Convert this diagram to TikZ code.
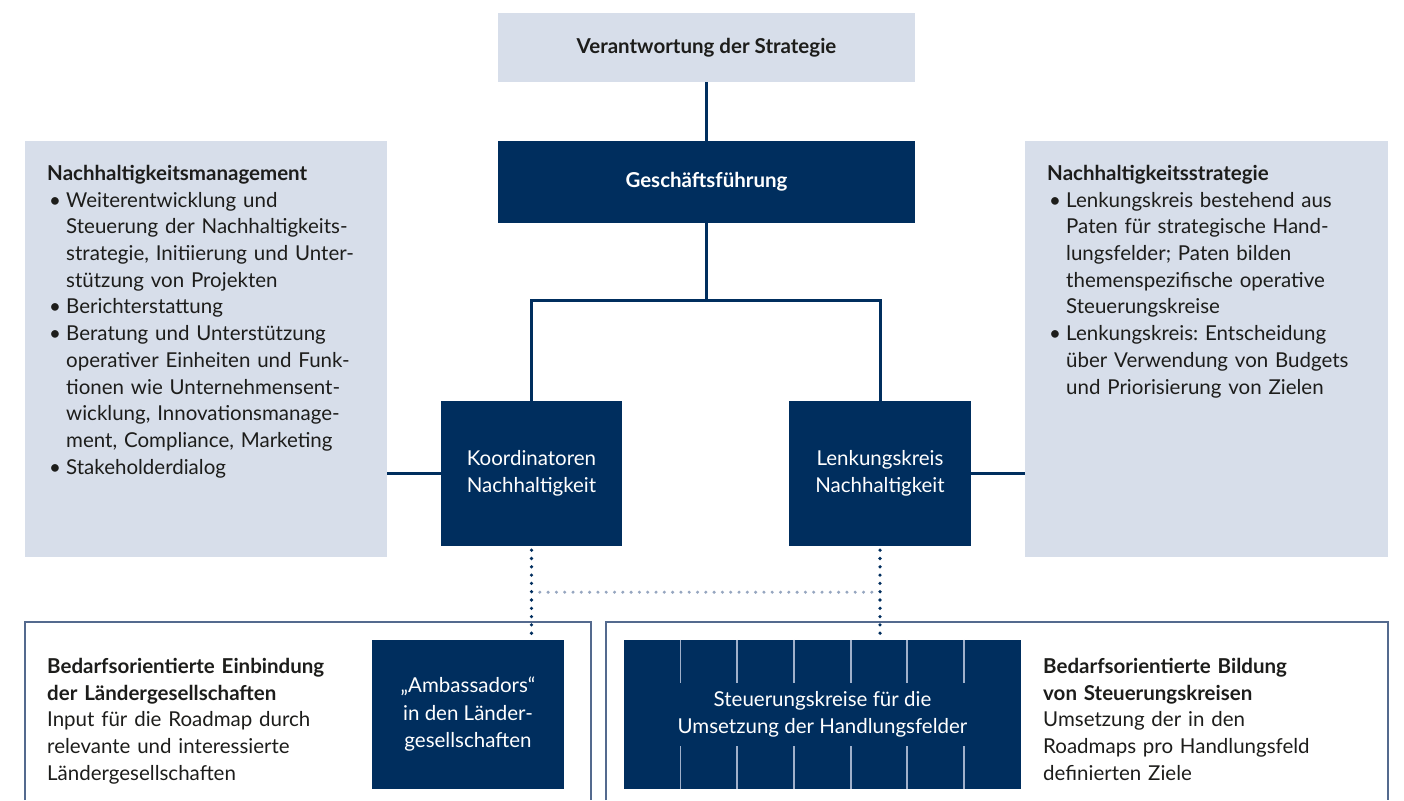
\documentclass[tikz,border=0pt]{standalone}
\usepackage{fontspec}
\setmainfont{Lato}
\usetikzlibrary{calc}
\frenchspacing
\definecolor{navy}{RGB}{0,46,94}
\definecolor{paleblue}{RGB}{215,222,234}
\definecolor{framecol}{RGB}{84,106,142}
\definecolor{dotlight}{RGB}{150,166,192}
\definecolor{tickcol}{RGB}{160,176,202}
\definecolor{ink}{RGB}{29,29,27}
\newcommand{\bul}[1]{\par{\leftskip=19pt\noindent\hspace{-19pt}\makebox[19pt][l]{\hspace{2pt}\textbullet}#1\par}}
\begin{document}
\begin{tikzpicture}[x=1pt,y=-1pt,
  lightbox/.style={fill=paleblue, draw=none, inner sep=0, rectangle},
  darkbox/.style={fill=navy, draw=none, inner sep=0, rectangle, text=white, align=center,
    font=\fontsize{20.5}{27.5}\selectfont},
  paneltext/.style={anchor=north west, inner sep=0, align=left, text width=345pt,
    font=\fontsize{20.5}{26.7}\selectfont, text=ink},
  conn/.style={draw=navy, line width=3pt},
  dotconn/.style={draw=navy, line width=3.6pt, dash pattern=on 0pt off 8.3pt, line cap=round},
  dotlightconn/.style={draw=dotlight, line width=3.4pt, dash pattern=on 0pt off 8.3pt, line cap=round},
  framepath/.style={draw=framecol, line width=1.4pt},
  tickline/.style={draw=tickcol, line width=1.8pt}]
\useasboundingbox (0,0) rectangle (1404,800);
\fill[white] (0,0) rectangle (1404,800);

% top boxes
\node[lightbox, minimum width=417pt, minimum height=69pt, text=ink,
  font=\bfseries\fontsize{20.5}{24}\selectfont] (vs) at (706.5,47.5) {Verantwortung der Strategie};
\node[darkbox, minimum width=417pt, minimum height=82pt, font=\bfseries\fontsize{20.5}{24}\selectfont] (gf) at (706.5,182) {Geschäftsführung};

% side panels
\node[lightbox, minimum width=362pt, minimum height=416pt] (nm) at (206,349) {};
\node[lightbox, minimum width=363pt, minimum height=416pt] (ns) at (1206.5,349) {};

% middle boxes
\node[darkbox, minimum width=181pt, minimum height=145pt] (koord) at (531.5,473.5) {Koordinatoren\\Nachhaltigkeit};
\node[darkbox, minimum width=182pt, minimum height=145pt] (lenk) at (880,473.5) {Lenkungskreis\\Nachhaltigkeit};

% bottom frames
\draw[framepath] (25,800) -- (25,622) -- (591,622) -- (591,800);
\draw[framepath] (606,800) -- (606,622) -- (1388,622) -- (1388,800);

% bottom boxes
\node[darkbox, minimum width=192pt, minimum height=149pt] (amb) at (468,714.5) {„Ambassadors“\\in den Länder-\\gesellschaften};
\node[darkbox, minimum width=397pt, minimum height=149pt] (stk) at (822.5,714.5) {Steuerungskreise für die\\Umsetzung der Handlungsfelder};
\foreach \i in {1,...,6} {
  \draw[tickline] ($(stk.north west)+(\i*56.71,0)$) -- ++(0,43);
  \draw[tickline] ($(stk.south west)+(\i*56.71,0)$) -- ++(0,-43);
}

% connectors
\coordinate (split) at (706.5,300);
\draw[conn] (vs.south) -- (gf.north);
\draw[conn] (gf.south) -- (split);
\draw[conn] (split) -| (koord.north);
\draw[conn] (split) -| (lenk.north);
\draw[conn] (koord.west) -- (koord.west -| nm.east);
\draw[conn] (lenk.east) -- (lenk.east -| ns.west);
\draw[dotconn] ($(koord.south)+(0,4)$) -- (amb.north -| koord.south);
\draw[dotconn] ($(lenk.south)+(0,4)$) -- (stk.north -| lenk.south);
\coordinate (dl) at ($(koord.south)+(8.3,46)$);
\coordinate (dr) at ($(lenk.south)+(-4,46)$);
\draw[dotlightconn] (dl) -- (dr);

% panel texts
\node[paneltext] (nmtext) at (47,165) {\textbf{Nachhaltigkeitsmanagement}
\bul{Weiterentwicklung und\\Steuerung der Nachhaltigkeits-\\strategie, Initiierung und Unter-\\stützung von Projekten}
\bul{Berichterstattung}
\bul{Beratung und Unterstützung\\operativer Einheiten und Funk-\\tionen wie Unternehmensent-\\wicklung, Innovationsmanage-\\ment, Compliance, Marketing}
\bul{Stakeholderdialog}};

\node[paneltext] (nstext) at (1047,165) {\textbf{Nachhaltigkeitsstrategie}
\bul{Lenkungskreis bestehend aus\\Paten für strategische Hand-\\lungsfelder; Paten bilden\\themenspezifische operative\\Steuerungskreise}
\bul{Lenkungskreis: Entscheidung\\über Verwendung von Budgets\\und Priorisierung von Zielen}};

\node[paneltext] (bltext) at (47,658) {\textbf{Bedarfsorientierte Einbindung}\\\textbf{der Ländergesellschaften}\\Input für die Roadmap durch\\relevante und interessierte\\Ländergesellschaften};

\node[paneltext] (brtext) at (1043,658) {\textbf{Bedarfsorientierte Bildung}\\\textbf{von Steuerungskreisen}\\Umsetzung der in den\\Roadmaps pro Handlungsfeld\\definierten Ziele};
\end{tikzpicture}
\end{document}
